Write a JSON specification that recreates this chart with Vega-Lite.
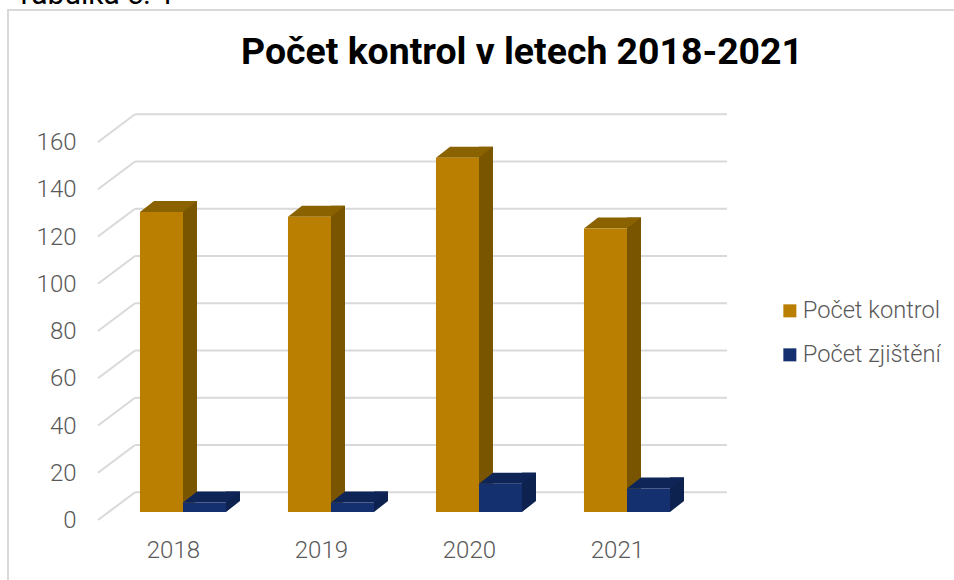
{
"$schema":"https://vega.github.io/schema/vega-lite/v6.json",
"width":592,"height":378,
"autosize":{"type":"none"},
"padding":{"left":135,"top":134,"right":227,"bottom":68},
"background":"white",
"config":{"view":{"stroke":null},"font":"Roboto"},
"title":{"text":"Počet kontrol v letech 2018-2021","font":"Roboto","fontSize":37.4,"fontWeight":"bold","color":"#000000","anchor":"middle","frame":"group","dx":91,"offset":-91},
"datasets":{
"bars":[
{"year":"2018","series":"Počet kontrol","value":127},
{"year":"2018","series":"Počet zjištění","value":4},
{"year":"2019","series":"Počet kontrol","value":125},
{"year":"2019","series":"Počet zjištění","value":4},
{"year":"2020","series":"Počet kontrol","value":150},
{"year":"2020","series":"Počet zjištění","value":12},
{"year":"2021","series":"Počet kontrol","value":120},
{"year":"2021","series":"Počet zjištění","value":10}
],
"grid":[{"tick":0},{"tick":20},{"tick":40},{"tick":60},{"tick":80},{"tick":100},{"tick":120},{"tick":140},{"tick":160}]
},
"layer":[
{"data":{"values":[{"frame":"top"}]},"mark":{"type":"rule","stroke":"#d9d9d9","strokeWidth":2},"encoding":{"x":{"value":-128},"x2":{"value":819},"y":{"value":-124},"y2":{"value":-124}}},
{"data":{"values":[{"frame":"left"}]},"mark":{"type":"rule","stroke":"#d9d9d9","strokeWidth":2},"encoding":{"x":{"value":-127},"x2":{"value":-127},"y":{"value":-124},"y2":{"value":446}}},
{"data":{"values":[{"label":"Tabulka č. 1"}]},"mark":{"type":"text","x":-120,"y":-130,"align":"left","baseline":"alphabetic","fontSize":30,"font":"Roboto","color":"#000000"},"encoding":{"text":{"field":"label"}}},
{"data":{"name":"grid"},"mark":{"type":"rule","yOffset":-19.7,"stroke":"#d9d9d9","strokeWidth":2},
 "encoding":{"y":{"field":"tick","type":"quantitative","scale":{"domain":[0,160],"nice":false},
   "axis":{"title":null,"values":[0,20,40,60,80,100,120,140,160],"domain":false,"ticks":false,"grid":false,"labelFontSize":24,"labelFont":"Roboto","labelFontWeight":300,"labelColor":"#595959","labelOffset":8.5,"labelPadding":59}}}},
{"data":{"name":"grid"},"mark":{"type":"point","shape":"M-37,8 L0,-19.7","size":4,"filled":false,"xOffset":-296,"stroke":"#d9d9d9","strokeWidth":2,"opacity":1},
 "encoding":{"y":{"field":"tick","type":"quantitative"}}},
{"data":{"name":"bars"},"transform":[{"filter":"datum.series==='Počet kontrol'"}],"mark":{"type":"bar","size":14,"xOffset":7,"yOffset":-11,"y2Offset":-11,"color":"#7a5500"},
 "encoding":{"x":{"field":"year","type":"nominal"},"y":{"field":"value","type":"quantitative"}}},
{"data":{"name":"bars"},"mark":{"type":"point","shape":"M21.5,0 L35.5,-11 L21.5,-11 Z","size":4,"filled":true,"opacity":1},
 "encoding":{"x":{"field":"year","type":"nominal"},"xOffset":{"field":"series","type":"nominal"},"y":{"datum":0,"type":"quantitative"},
  "color":{"condition":{"test":"datum.series==='Počet kontrol'","value":"#7a5500"},"value":"#0e2250"}}},
{"data":{"name":"bars"},"transform":[{"filter":"datum.series==='Počet zjištění'"}],"mark":{"type":"bar","size":14,"xOffset":50,"yOffset":-11,"y2Offset":-11,"color":"#0e2250"},
 "encoding":{"x":{"field":"year","type":"nominal"},"y":{"field":"value","type":"quantitative"}}},
{"data":{"name":"bars"},"mark":{"type":"point","shape":"M-21.5,0 L21.5,0 L35.5,-11 L-7.5,-11 Z","size":4,"filled":true,"opacity":1},
 "encoding":{"x":{"field":"year","type":"nominal"},"xOffset":{"field":"series","type":"nominal"},"y":{"field":"value","type":"quantitative"},
  "color":{"condition":{"test":"datum.series==='Počet kontrol'","value":"#8a6200"},"value":"#0f2558"}}},
{"data":{"name":"bars"},"mark":{"type":"bar"},
 "encoding":{
  "x":{"field":"year","type":"nominal","scale":{"paddingInner":0,"paddingOuter":0,"range":[-26,566]},
    "axis":{"title":null,"labelAngle":0,"domain":false,"ticks":false,"grid":false,"labelFontSize":24,"labelFont":"Roboto","labelFontWeight":300,"labelColor":"#595959","labelOffset":17,"labelPadding":38}},
  "xOffset":{"field":"series","type":"nominal","scale":{"domain":["Počet kontrol","Počet zjištění"],"paddingInner":0,"paddingOuter":0.72}},
  "y":{"field":"value","type":"quantitative"},
  "color":{"field":"series","type":"nominal","scale":{"domain":["Počet kontrol","Počet zjištění"],"range":["#ba7e00","#15306f"]},
    "legend":{"title":null,"orient":"none","legendX":643,"legendY":165,"padding":0,"symbolType":"square","symbolSize":169,"symbolStrokeWidth":0,"labelFontSize":23.7,"labelFont":"Roboto","labelFontWeight":300,"labelColor":"#595959","labelOffset":1,"rowPadding":19,"labelLimit":200}}}}
]
}
